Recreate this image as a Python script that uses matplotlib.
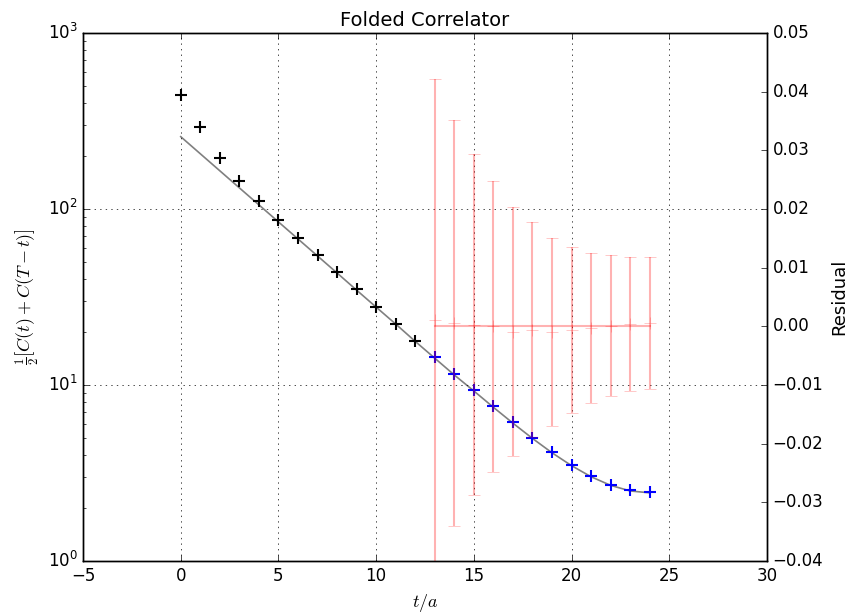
import matplotlib
matplotlib.use('Agg')
import matplotlib.pyplot as plt
from matplotlib.ticker import MultipleLocator

plt.style.use('classic')

# folded correlator data
t = [0, 1, 2, 3, 4, 5, 6, 7, 8, 9, 10, 11, 12, 13, 14, 15, 16, 17, 18, 19, 20, 21, 22, 23, 24]
corr = [444, 292, 195, 144, 111, 86.6, 68.4, 54.8, 43.8, 35.1, 27.7, 22.2, 17.8,
        14.4, 11.5, 9.37, 7.6, 6.17, 5.0, 4.16, 3.51, 3.04, 2.70, 2.53, 2.47]
# fit curve
fit = [257.6, 206.1, 164.9, 131.9, 105.6, 84.5, 67.6, 54.1, 43.3, 34.6, 27.7, 22.2, 17.7,
       14.2, 11.4, 9.25, 7.47, 6.07, 4.97, 4.12, 3.48, 3.01, 2.69, 2.50, 2.44]

# fit range and residuals
t_fit = [13, 14, 15, 16, 17, 18, 19, 20, 21, 22, 23, 24]
resid = [0.0011, 0.0006, 0.0003, 0.0, -0.0009, -0.0006, -0.001, -0.0006, -0.0003, 0.0001, 0.0004, 0.0006]
resid_err = [0.0411, 0.0346, 0.029, 0.0248, 0.0212, 0.0183, 0.016, 0.0142, 0.0128, 0.012, 0.0115, 0.0113]

fig = plt.figure(figsize=[8.5, 6.12], dpi=100, facecolor='w')
ax = fig.add_axes([83/850, 1-561/612, 684/850, 528/612])

nfit = t.index(t_fit[0])
ax.plot(t, fit, '-', color='0.5', lw=1.2, zorder=2)
ax.plot(t[:nfit], corr[:nfit], 'k+', ms=9, mew=1.5, zorder=3)
ax.plot(t[nfit:], corr[nfit:], 'b+', ms=9, mew=1.5, zorder=3)

ax.set_yscale('log')
ax.set_xlim(-5, 30)
ax.set_ylim(1, 1000)
ax.grid(True, which='major')
ax.set_xlabel('$t/a$', fontsize=13)
ax.set_ylabel(r'$\frac{1}{2}\left[C(t)+C(T-t)\right]$', fontsize=13)
ax.set_title('Folded Correlator', fontsize=14)

ax2 = ax.twinx()
ax2.errorbar(t_fit, resid, yerr=resid_err, fmt='r+', ms=8, alpha=0.3, lw=1.5, capsize=4)
ax2.plot(t_fit, [0]*len(t_fit), 'r-', alpha=0.3, lw=1.5)
ax2.set_ylim(-0.04, 0.05)
ax2.yaxis.set_major_locator(MultipleLocator(0.01))
ax2.set_xlim(-5, 30)
ax2.set_ylabel('Residual', fontsize=13)

fig.savefig('out.png', dpi=100, facecolor='w')
